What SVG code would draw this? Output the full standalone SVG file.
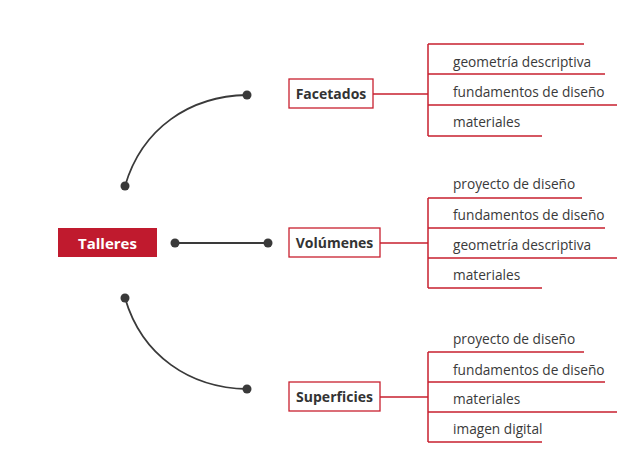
<svg xmlns="http://www.w3.org/2000/svg" width="644" height="468" viewBox="0 0 644 468">
<style>
.bg{fill:#ffffff}
.root{fill:#c01a2e}
.rootT{font-family:"Open Sans","Noto Sans",sans-serif;font-size:15px;font-weight:bold;fill:#ffffff;text-anchor:middle}
.box{fill:#ffffff;stroke:#c8202f;stroke-width:1.3}
.boxT{font-family:"Open Sans","Noto Sans",sans-serif;font-size:14px;font-weight:bold;fill:#333333;text-anchor:middle}
.red{fill:none;stroke:#c8202f;stroke-width:1.5}
.leaf{font-family:"Open Sans","Noto Sans",sans-serif;font-size:13.7px;fill:#3a3a3a}
.con{fill:none;stroke:#3a3a3a;stroke-width:1.8}
.dot{fill:#3a3a3a}
</style>
<rect class="bg" x="0" y="0" width="644" height="468"/>
<g id="connectors">
<path class="con" d="M125,186 C142,128 190,96 247,95"/>
<line class="con" x1="175" y1="243" x2="268" y2="243"/>
<path class="con" d="M125,298 C142,356 190,388 247,389"/>
<circle class="dot" cx="125" cy="186" r="4.5"/>
<circle class="dot" cx="247" cy="95" r="4.5"/>
<circle class="dot" cx="175" cy="243" r="4.5"/>
<circle class="dot" cx="268" cy="243" r="4.5"/>
<circle class="dot" cx="125" cy="298" r="4.5"/>
<circle class="dot" cx="247" cy="389" r="4.5"/>
</g>
<g id="talleres">
<rect class="root" x="58" y="228" width="99" height="29"/>
<text class="rootT" x="107.5" y="248.5">Talleres</text>
</g>
<g id="facetados">
<rect class="box" x="289" y="79" width="84" height="29"/>
<text class="boxT" x="331" y="99">Facetados</text>
<path class="red" d="M373,94 H428 M428,44 V136 M428,44 H584 M428,74 H605 M428,105 H617 M428,136 H542"/>
<text class="leaf" x="453" y="67">geometría descriptiva</text>
<text class="leaf" x="453" y="97">fundamentos de diseño</text>
<text class="leaf" x="453" y="127">materiales</text>
</g>
<g id="volumenes">
<rect class="box" x="289" y="228" width="91" height="29"/>
<text class="boxT" x="334.5" y="248">Volúmenes</text>
<path class="red" d="M380,243 H428 M428,198 V288 M428,198 H582 M428,228 H605 M428,258 H617 M428,288 H542"/>
<text class="leaf" x="453" y="189">proyecto de diseño</text>
<text class="leaf" x="453" y="220">fundamentos de diseño</text>
<text class="leaf" x="453" y="250">geometría descriptiva</text>
<text class="leaf" x="453" y="280">materiales</text>
</g>
<g id="superficies">
<rect class="box" x="289" y="382" width="91" height="29"/>
<text class="boxT" x="334.5" y="402">Superficies</text>
<path class="red" d="M380,397 H428 M428,352 V442 M428,352 H584 M428,382 H605 M428,412 H617 M428,442 H542"/>
<text class="leaf" x="453" y="344">proyecto de diseño</text>
<text class="leaf" x="453" y="375">fundamentos de diseño</text>
<text class="leaf" x="453" y="404">materiales</text>
<text class="leaf" x="453" y="434">imagen digital</text>
</g>
</svg>
